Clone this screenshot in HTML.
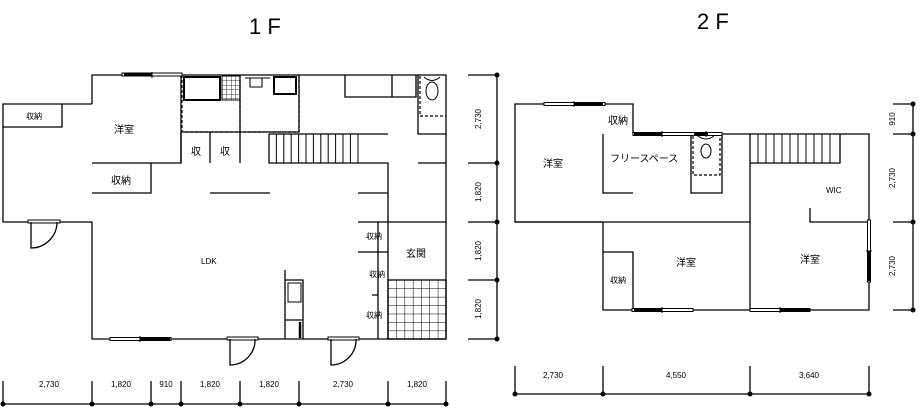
<!DOCTYPE html>
<html><head><meta charset="utf-8">
<style>
html,body{margin:0;padding:0;background:#fff;}
svg{display:block;}
text{font-family:"Liberation Sans","Noto Sans CJK JP",sans-serif;fill:#000;}
.s{font-size:10px;}
.d{font-size:8px;}
</style></head>
<body>
<svg width="921" height="420" viewBox="0 0 921 420" xmlns="http://www.w3.org/2000/svg">
<defs>
<pattern id="grid" x="388" y="280" width="8.3" height="8.43" patternUnits="userSpaceOnUse">
<path d="M0 0H8.3M0 0V8.43" stroke="#000" stroke-width="1" fill="none"/>
</pattern>
<pattern id="grid2" x="222" y="76" width="4.5" height="4.5" patternUnits="userSpaceOnUse">
<path d="M0 0H4.5M0 0V4.5" stroke="#000" stroke-width="0.8" fill="none"/>
</pattern>
</defs>
<text x="249" y="34" style="font-size:22px">1 F</text>
<text x="697" y="29" style="font-size:22px">2 F</text>

<g stroke="#000" stroke-width="1.3" fill="none">
<!-- 1F walls -->
<path d="M92 104V75H446V339H92V222H3V104H92"/>
<path d="M3 127H62V104"/>
<path d="M92 163H181V75"/>
<path d="M92 193H151V163"/>
<path d="M181 132H299V75"/>
<path d="M240 75V163M210 132V163M181 132V163"/>
<path d="M269 134H388M269 134V163H388V339"/>
<path d="M418 75V134H446M418 163H446"/>
<path d="M210 193H270M358 193H388M358 222H446M358 252H388M378 222V339M372 295H378"/>
<path d="M345 75V97H416V75M392 75V97"/>
<!-- tub etc -->
<rect x="184" y="77" width="36" height="23" stroke-width="2"/>
<rect x="274" y="77" width="22" height="17" stroke-width="2"/>
<rect x="250" y="78" width="12" height="9" stroke-width="1"/>
<path d="M245 78H270" stroke-width="1"/>
<rect x="222" y="76" width="18" height="24" fill="url(#grid2)" stroke-width="1"/>
<!-- dashed -->
<path d="M182 75V132H240M240 75V132H299M299 75V132" stroke-dasharray="3,2" stroke-width="1.2"/>
<path d="M420 76V116H446" stroke-dasharray="3,2" stroke-width="1.2"/>
<ellipse cx="432" cy="91" rx="6" ry="9" stroke-width="1"/>
<path d="M424 77Q432 84 440 77" stroke-width="1"/>
<!-- stairs 1F -->
<path d="M276.4 134V163M283.8 134V163M291.2 134V163M298.6 134V163M306 134V163M313.4 134V163M320.8 134V163M328.2 134V163M335.6 134V163M343 134V163M350.4 134V163M358 134V163" stroke-width="1"/>
<!-- entry tiles -->
<rect x="388" y="280" width="58" height="59" fill="url(#grid)"/>
<!-- kitchen unit -->
<path d="M285 270V339M285 280H303V339M285 320H303"/>
<rect x="288" y="283" width="13" height="19" stroke-width="1"/>
<path d="M300 322V338" stroke-width="2.5"/>
<!-- doors -->
<rect x="28" y="220" width="32" height="3" fill="#fff" stroke-width="1"/>
<path d="M31 222V248A26 26 0 0 0 57 222"/>
<rect x="227" y="337" width="31" height="3" fill="#fff" stroke-width="1"/>
<path d="M230 339V365A25 25 0 0 0 255 339"/>
<rect x="328" y="337" width="31" height="3" fill="#fff" stroke-width="1"/>
<path d="M331 339V365A25 25 0 0 0 356 339"/>
<!-- windows 1F -->
<rect x="122" y="73" width="60" height="3" fill="#fff" stroke-width="1"/>
<path d="M124 74.5H152" stroke-width="3"/><path d="M152 72V78" stroke-width="1"/>
<rect x="110" y="337.5" width="61" height="3" fill="#fff" stroke-width="1"/>
<path d="M140 339H170" stroke-width="3"/><path d="M140 336V342" stroke-width="1"/>

<!-- 1F dims -->
<path d="M3 404H446M3 381V404M92 381V404M151 381V404M181 381V404M240 381V404M299 381V404M388 381V404M446 381V404"/>
<path d="M468 75H497M468 163H497M468 222H497M468 280H497M468 339H497M497 75V339"/>

<!-- 2F walls -->
<path d="M515 104H633V134H869V310H603V222H515Z"/>
<path d="M603 134V193H633"/>
<path d="M691 134V193H722V134"/>
<path d="M750 134V163H840V134M750 163V310M515 222H750"/>
<path d="M810 208V222H869"/>
<path d="M603 252H633V310"/>
<path d="M758 134V163M766 134V163M774 134V163M782 134V163M790 134V163M798 134V163M806 134V163M814 134V163M822 134V163M830 134V163" stroke-width="1"/>
<path d="M693 136V175H720V136" stroke-dasharray="3,2" stroke-width="1.2"/>
<ellipse cx="706" cy="151" rx="5" ry="7" stroke-width="1"/>
<path d="M698 136Q706 142 714 136" stroke-width="1"/>
<!-- 2F windows -->
<rect x="544" y="102.5" width="61" height="3" fill="#fff" stroke-width="1"/>
<path d="M574 104H603" stroke-width="3"/><path d="M574 101V107" stroke-width="1"/>
<rect x="633" y="132.5" width="89" height="3" fill="#fff" stroke-width="1"/>
<path d="M634 134H662M694 134H708" stroke-width="3"/><path d="M662 131V137M706 131V137" stroke-width="1"/>
<rect x="632" y="308.5" width="61" height="3" fill="#fff" stroke-width="1"/>
<path d="M634 310H662" stroke-width="3"/><path d="M662 307V313" stroke-width="1"/>
<rect x="750" y="308.5" width="60" height="3" fill="#fff" stroke-width="1"/>
<path d="M780 310H810" stroke-width="3"/><path d="M780 307V313" stroke-width="1"/>
<rect x="867.5" y="220" width="3" height="62" fill="#fff" stroke-width="1"/>
<path d="M869 251V281" stroke-width="3"/><path d="M866 251H872" stroke-width="1"/>

<!-- 2F dims -->
<path d="M515 394H869M515 366V394M603 366V394M750 366V394M869 366V394"/>
<path d="M893 104H913M893 134H913M893 222H913M893 310H913M913 104V310"/>
</g>
<g fill="#000">
<circle cx="3" cy="404" r="2.5"/><circle cx="92" cy="404" r="2.5"/><circle cx="151" cy="404" r="2.5"/><circle cx="181" cy="404" r="2.5"/><circle cx="240" cy="404" r="2.5"/><circle cx="299" cy="404" r="2.5"/><circle cx="388" cy="404" r="2.5"/><circle cx="446" cy="404" r="2.5"/>
<circle cx="497" cy="75" r="2.5"/><circle cx="497" cy="163" r="2.5"/><circle cx="497" cy="222" r="2.5"/><circle cx="497" cy="280" r="2.5"/><circle cx="497" cy="339" r="2.5"/>
<circle cx="515" cy="394" r="2.5"/><circle cx="603" cy="394" r="2.5"/><circle cx="750" cy="394" r="2.5"/><circle cx="869" cy="394" r="2.5"/>
<circle cx="913" cy="104" r="2.5"/><circle cx="913" cy="134" r="2.5"/><circle cx="913" cy="222" r="2.5"/><circle cx="913" cy="310" r="2.5"/>
</g>

<!-- labels 1F -->
<text class="d" x="26" y="119">収納</text>
<text class="s" x="114" y="133">洋室</text>
<text class="s" x="111" y="184">収納</text>
<text class="s" x="191" y="155">収</text>
<text class="s" x="220" y="155">収</text>
<text class="d" x="366" y="239">収納</text>
<text class="d" x="369" y="277">収納</text>
<text class="d" x="366" y="318">収納</text>
<text class="s" x="406" y="257">玄関</text>
<text class="d" x="201" y="264">LDK</text>
<g class="d" text-anchor="middle">
<text x="49" y="387">2,730</text><text x="121" y="387">1,820</text><text x="166" y="387">910</text><text x="210" y="387">1,820</text><text x="269" y="387">1,820</text><text x="343" y="387">2,730</text><text x="417" y="387">1,820</text>
<text x="553" y="378">2,730</text><text x="676" y="378">4,550</text><text x="809" y="378">3,640</text>
</g>
<g class="d" text-anchor="middle">
<text transform="translate(481,119) rotate(-90)">2,730</text>
<text transform="translate(481,192) rotate(-90)">1,820</text>
<text transform="translate(481,251) rotate(-90)">1,820</text>
<text transform="translate(481,309) rotate(-90)" fill="#88a">1,820</text>
<text transform="translate(895,119) rotate(-90)">910</text>
<text transform="translate(895,178) rotate(-90)">2,730</text>
<text transform="translate(895,266) rotate(-90)">2,730</text>
</g>
<!-- labels 2F -->
<text class="s" x="608" y="124">収納</text>
<text class="s" x="543" y="167">洋室</text>
<text class="s" x="610" y="162">フリースペース</text>
<text class="d" x="826" y="193">WIC</text>
<text class="s" x="676" y="266">洋室</text>
<text class="s" x="800" y="263">洋室</text>
<text class="d" x="610" y="283">収納</text>
</svg>
</body></html>
